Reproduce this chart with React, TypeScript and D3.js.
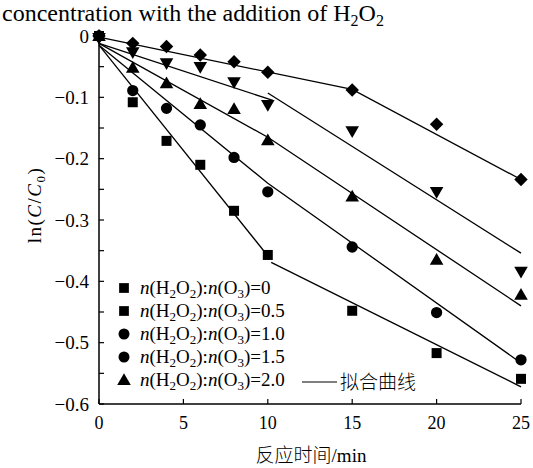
import React from "react";
import * as d3 from "d3";

// reaction time (min)
const times = [0, 2, 4, 6, 8, 10, 15, 20, 25];

// ln(C/C0) per ratio
const sqValues = [0, -0.108, -0.171, -0.21, -0.285, -0.357, -0.448, -0.517, -0.559];
const circValues = [0, -0.089, -0.118, -0.145, -0.198, -0.254, -0.344, -0.451, -0.528];
const triValues = [0, -0.052, -0.077, -0.111, -0.119, -0.17, -0.262, -0.365, -0.422];
const invTriValues = [0, -0.023, -0.041, -0.047, -0.072, -0.109, -0.152, -0.251, -0.381];
const diamValues = [0, -0.012, -0.017, -0.031, -0.042, -0.059, -0.088, -0.144, -0.234];

// fitted segments [t, ln(C/C0)]
const fitLines: [number, number][][] = [
  [[0, -0.015], [9.9, -0.355]],
  [[10.2, -0.369], [25, -0.572]],
  [[0, -0.015], [10, -0.24], [25, -0.533]],
  [[0, -0.012], [10, -0.165], [25, -0.44]],
  [[0, -0.012], [10.3, -0.105]],
  [[10, -0.093], [25, -0.354]],
  [[0, -0.002], [15, -0.087], [25, -0.234]],
];

const legendLabels = ["0", "0.5", "1.0", "1.5", "2.0"];
const legendShapes = ["square", "square", "circle", "circle", "triangle"];

const xTicks = [0, 5, 10, 15, 20, 25];
const yTicks = [0, -0.1, -0.2, -0.3, -0.4, -0.5, -0.6];
const yMinor = [-0.05, -0.15, -0.25, -0.35, -0.45, -0.55];

const x = d3.scaleLinear().domain([0, 25]).range([99, 521]);
const y = d3.scaleLinear().domain([0, -0.6]).range([36, 404]);

const symbolPath = (shape: string, size: number) => {
  const types: Record<string, d3.SymbolType> = {
    square: d3.symbolSquare,
    circle: d3.symbolCircle,
    triangle: d3.symbolTriangle,
  };
  return d3.symbol(types[shape], size)() as string;
};

const Marker = ({ shape, cx, cy, size }: { shape: string; cx: number; cy: number; size: number }) => {
  if (shape === "diamond") {
    return <path d={symbolPath("square", size)} transform={`translate(${cx},${cy}) rotate(45)`} fill="#000" />;
  }
  if (shape === "invtri") {
    return <path d={symbolPath("triangle", size)} transform={`translate(${cx},${cy + 1}) rotate(180)`} fill="#000" />;
  }
  const dy = shape === "triangle" ? 1 : 0;
  return <path d={symbolPath(shape, size)} transform={`translate(${cx},${cy + dy})`} fill="#000" />;
};

const series = [
  { shape: "square", values: sqValues, size: 100 },
  { shape: "circle", values: circValues, size: 100 },
  { shape: "triangle", values: triValues, size: 80 },
  { shape: "invtri", values: invTriValues, size: 80 },
  { shape: "diamond", values: diamValues, size: 90 },
];

const line = d3
  .line<[number, number]>()
  .x((d) => x(d[0]))
  .y((d) => y(d[1]));

const fmt = (v: number) => (v === 0 ? "0" : "\u2212" + Math.abs(v).toFixed(1));

const Ratio = ({ val }: { val: string }) => (
  <>
    <tspan fontStyle="italic">n</tspan>
    <tspan>(H</tspan>
    <tspan fontSize="13" dy="4">2</tspan>
    <tspan dy="-4">O</tspan>
    <tspan fontSize="13" dy="4">2</tspan>
    <tspan dy="-4">):</tspan>
    <tspan fontStyle="italic">n</tspan>
    <tspan>(O</tspan>
    <tspan fontSize="13" dy="4">3</tspan>
    <tspan dy="-4">)={val}</tspan>
  </>
);

export default function App() {
  const font = "'Liberation Serif', 'Times New Roman', serif";
  const cjk = "'Noto Sans CJK SC'";
  return (
    <div style={{ position: "fixed", left: 0, top: 0 }}>
      <svg width={533} height={468} fontFamily={font} style={{ display: "block", background: "#fff" }}>
        <text x={2} y={21} fontSize={24}>
          concentration with the addition of H
          <tspan fontSize="16" dy="5">2</tspan>
          <tspan dy="-5">O</tspan>
          <tspan fontSize="16" dy="5">2</tspan>
        </text>

        {/* axes */}
        <line x1={x(0)} x2={x(0)} y1={y(0)} y2={y(-0.6)} stroke="#000" strokeWidth={1.5} />
        <line x1={x(0)} x2={x(25)} y1={y(-0.6)} y2={y(-0.6)} stroke="#000" strokeWidth={1.5} />
        {yTicks.concat(yMinor).map((t) => (
          <line key={"yt" + t} x1={x(0)} x2={x(0) + 5} y1={y(t)} y2={y(t)} stroke="#000" strokeWidth={1.2} />
        ))}
        {yTicks.map((t) => (
          <text key={"yl" + t} x={89} y={y(t)} dy="0.35em" textAnchor="end" fontSize={19}>
            {fmt(t)}
          </text>
        ))}
        {xTicks.map((t) => (
          <g key={"xt" + t}>
            <line x1={x(t)} x2={x(t)} y1={y(-0.6)} y2={y(-0.6) - 5} stroke="#000" strokeWidth={1.2} />
            <text x={x(t)} y={y(-0.6) + 25} textAnchor="middle" fontSize={18}>
              {t}
            </text>
          </g>
        ))}
        <text x={311} y={462} textAnchor="middle" fontSize={19}>
          <tspan fontFamily={cjk} fontWeight={300}>反应时间</tspan>/min
        </text>
        <text transform="translate(41,205) rotate(-90)" textAnchor="middle" fontSize={19} letterSpacing={1.5}>
          ln(<tspan fontStyle="italic">C</tspan>/<tspan fontStyle="italic">C</tspan>
          <tspan fontSize="13" dy="4">0</tspan>
          <tspan dy="-4">)</tspan>
        </text>

        {/* fitted lines */}
        {fitLines.map((seg, i) => (
          <path key={"f" + i} d={line(seg) as string} fill="none" stroke="#000" strokeWidth={1.3} />
        ))}

        {/* points */}
        {series.map((s) =>
          s.values.map((v, i) => (
            <Marker key={s.shape + i} shape={s.shape} cx={x(times[i])} cy={y(v)} size={s.size} />
          ))
        )}

        {/* legend */}
        {legendLabels.map((lab, i) => {
          const ly = 288 + i * 23;
          return (
            <g key={"lg" + i}>
              <Marker shape={legendShapes[i]} cx={124} cy={ly} size={legendShapes[i] === "triangle" ? 80 : 95} />
              <text x={140} y={ly + 6} fontSize={19}>
                <Ratio val={lab} />
              </text>
            </g>
          );
        })}
        <line x1={302} x2={337} y1={382} y2={382} stroke="#000" strokeWidth={1.2} />
        <text x={340} y={389} fontSize={19} fontFamily={cjk} fontWeight={300}>
          拟合曲线
        </text>
      </svg>
    </div>
  );
}
